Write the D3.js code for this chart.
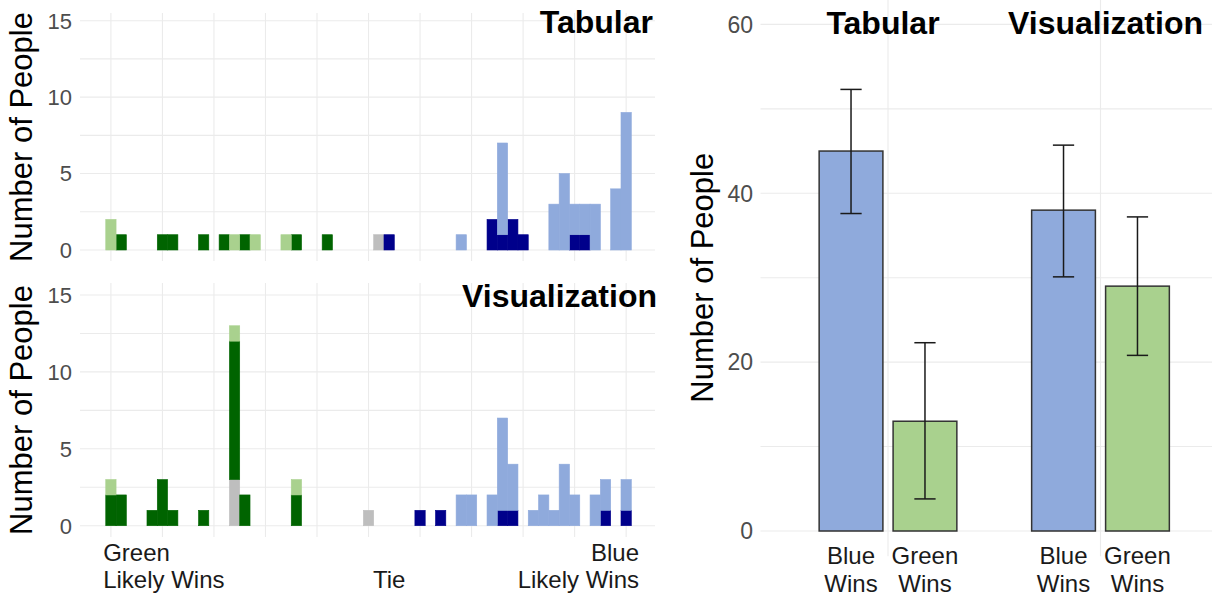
<!DOCTYPE html>
<html>
<head>
<meta charset="utf-8">
<script src="https://cdn.jsdelivr.net/npm/d3@7"></script>
<style>
  body { margin: 0; background: #fff; }
  text { font-family: "Liberation Sans", Arial, sans-serif; }
</style>
</head>
<body>
<div id="chart"></div>
<script>
// ---- histogram data: bin index 0 (green likely wins) .. 50 (blue likely wins), [bin, count]
const binTicks = [0, 5, 10, 15, 20, 25, 30, 35, 40, 45, 50];
const countTicks = [0, 5, 10, 15];
const countMinor = [2.5, 7.5, 12.5];
const groups = ["tie", "strongBlue", "strongGreen", "weakGreen", "weakBlue"]; // stack bottom -> top

const tabStrongGreen = [[1, 1], [5, 1], [6, 1], [9, 1], [11, 1], [13, 1], [18, 1], [21, 1]];
const tabWeakGreen = [[0, 2], [12, 1], [14, 1], [17, 1]];
const tabTie = [[26, 1]];
const tabStrongBlue = [[27, 1], [37, 2], [38, 1], [39, 2], [40, 1], [45, 1], [46, 1]];
const tabWeakBlue = [[34, 1], [38, 6], [43, 3], [44, 5], [45, 2], [46, 2], [47, 3], [49, 4], [50, 9]];

const vizStrongGreen = [[0, 2], [1, 2], [4, 1], [5, 3], [6, 1], [9, 1], [12, 9], [13, 2], [18, 2]];
const vizWeakGreen = [[0, 1], [12, 1], [18, 1]];
const vizTie = [[12, 3], [25, 1]];
const vizStrongBlue = [[30, 1], [32, 1], [38, 1], [39, 1], [48, 1], [50, 1]];
const vizWeakBlue = [[34, 2], [35, 2], [37, 2], [38, 6], [39, 3], [41, 1], [42, 2], [43, 1], [44, 4], [45, 2], [47, 2], [48, 2], [50, 2]];

// ---- bar chart data
const conditions = ["Tabular", "Visualization"];
const outcomes = [["Blue", "Wins"], ["Green", "Wins"]];
const tabularWins = [45, 13];
const tabularLow = [37.6, 3.8];
const tabularHigh = [52.3, 22.3];
const vizWins = [38, 29];
const vizLow = [30.1, 20.8];
const vizHigh = [45.7, 37.2];
const barTicks = [0, 20, 40, 60];
const barMinor = [10, 30, 50];

const colors = {
    tie: "#bebebe",
    strongBlue: "#00008b",
    strongGreen: "#006400",
    weakGreen: "#a9d18e",
    weakBlue: "#8faadc"
};
const outcomeColors = ["#8faadc", "#a9d18e"];
const gridColor = "#ebebeb";
const tickColor = "#4d4d4d";

let svg = d3.select("#chart")
    .append("svg")
    .attr("width", 1212)
    .attr("height", 597);

// ---------------- left: two stacked histograms ----------------
let x = d3.scaleLinear().domain([-3, 52.8]).range([80, 655]);
let binW = x(0.5) - x(-0.5);

function toRows(series) {
    let rows = d3.range(0, 51).map(b => ({ bin: b }));
    rows.forEach(r => groups.forEach(g => r[g] = 0));
    groups.forEach(g => series[g].forEach(([b, n]) => rows[b][g] = n));
    return rows;
}

let panels = [
    {
        title: "Tabular", top: 13, bottom: 261, y0: 250, y15: 20.7,
        rows: toRows({ tie: tabTie, strongBlue: tabStrongBlue, strongGreen: tabStrongGreen, weakGreen: tabWeakGreen, weakBlue: tabWeakBlue })
    },
    {
        title: "Visualization", top: 283, bottom: 537, y0: 525.7, y15: 295,
        rows: toRows({ tie: vizTie, strongBlue: vizStrongBlue, strongGreen: vizStrongGreen, weakGreen: vizWeakGreen, weakBlue: vizWeakBlue })
    }
];

panels.forEach((p, i) => {
    let y = d3.scaleLinear().domain([0, 15]).range([p.y0, p.y15]);
    let g = svg.append("g");

    // grid
    g.selectAll(".vgrid")
        .data(binTicks)
        .join("line")
        .attr("x1", d => x(d)).attr("x2", d => x(d))
        .attr("y1", p.top).attr("y2", p.bottom)
        .attr("stroke", gridColor).attr("stroke-width", 1.1);
    g.selectAll(".hgrid")
        .data(countTicks.concat(countMinor))
        .join("line")
        .attr("x1", x.range()[0]).attr("x2", x.range()[1])
        .attr("y1", d => y(d)).attr("y2", d => y(d))
        .attr("stroke", gridColor).attr("stroke-width", 1.1);

    // y tick labels
    g.selectAll(".ylab")
        .data(countTicks)
        .join("text")
        .attr("x", 72)
        .attr("y", d => y(d))
        .attr("dy", "0.36em")
        .attr("text-anchor", "end")
        .attr("fill", tickColor)
        .style("font-size", "22px")
        .text(d => d);

    // stacked bars
    let stacked = d3.stack().keys(groups)(p.rows);
    g.selectAll(".layer")
        .data(stacked)
        .join("g")
        .attr("fill", d => colors[d.key])
        .attr("stroke", d => colors[d.key])
        .attr("stroke-width", 0.6)
        .selectAll("rect")
        .data(d => d.filter(s => s[1] > s[0]))
        .join("rect")
        .attr("x", d => x(d.data.bin) - binW / 2)
        .attr("width", binW)
        .attr("y", d => y(d[1]))
        .attr("height", d => y(d[0]) - y(d[1]));

    // title inside panel
    g.append("text")
        .attr("x", i == 0 ? 653 : 657)
        .attr("y", i == 0 ? 33 : 307)
        .attr("text-anchor", "end")
        .style("font-size", "32px")
        .style("font-weight", "bold")
        .text(p.title);

    // axis title
    g.append("text")
        .attr("transform", "translate(32," + ((p.top + p.bottom) / 2) + ") rotate(-90)")
        .attr("text-anchor", "middle")
        .style("font-size", "31px")
        .attr("fill", "#000")
        .text("Number of People");
});

// bottom axis labels of the histograms
let histLabels = [
    { bin: -0.75, anchor: "start", lines: ["Green", "Likely Wins"] },
    { bin: 27, anchor: "middle", lines: ["", "Tie"] },
    { bin: 51.25, anchor: "end", lines: ["Blue", "Likely Wins"] }
];
histLabels.forEach(l => {
    l.lines.forEach((t, j) => {
        if (!t) return;
        svg.append("text")
            .attr("x", x(l.bin))
            .attr("y", 561 + j * 27)
            .attr("text-anchor", l.anchor)
            .attr("fill", "#1a1a1a")
            .style("font-size", "24px")
            .text(t);
    });
});

// ---------------- right: bar chart with error bars ----------------
let xr = d3.scaleLinear().domain([1, 2]).range([888, 1100.5]);
let yr = d3.scaleLinear().domain([0, 60]).range([531, 24.4]);
let dodge = 0.174, barWidth = 0.3, capWidth = 0.1;

let rg = svg.append("g");
rg.selectAll(".hgrid")
    .data(barTicks.concat(barMinor))
    .join("line")
    .attr("x1", xr(0.4)).attr("x2", 1212)
    .attr("y1", d => yr(d)).attr("y2", d => yr(d))
    .attr("stroke", gridColor).attr("stroke-width", 1.1);
rg.selectAll(".vgrid")
    .data([1, 2])
    .join("line")
    .attr("x1", d => xr(d)).attr("x2", d => xr(d))
    .attr("y1", yr(63)).attr("y2", yr(-3))
    .attr("stroke", gridColor).attr("stroke-width", 1.1);

rg.selectAll(".ylab")
    .data(barTicks)
    .join("text")
    .attr("x", 753)
    .attr("y", d => yr(d))
    .attr("dy", "0.36em")
    .attr("text-anchor", "end")
    .attr("fill", tickColor)
    .style("font-size", "23px")
    .text(d => d);

rg.append("text")
    .attr("transform", "translate(713," + yr(30) + ") rotate(-90)")
    .attr("text-anchor", "middle")
    .style("font-size", "31px")
    .text("Number of People");

let bars = [];
[[tabularWins, tabularLow, tabularHigh], [vizWins, vizLow, vizHigh]].forEach(([w, lo, hi], ci) => {
    w.forEach((v, oi) => bars.push({
        cond: ci + 1, outcome: oi, value: v, low: lo[oi], high: hi[oi]
    }));
});
let cx = d => xr(d.cond + (d.outcome == 0 ? -dodge : dodge));
let bw = xr(1 + barWidth) - xr(1);
let cw = xr(1 + capWidth) - xr(1);

rg.selectAll(".bar")
    .data(bars)
    .join("rect")
    .attr("x", d => cx(d) - bw / 2)
    .attr("width", bw)
    .attr("y", d => yr(d.value))
    .attr("height", d => yr(0) - yr(d.value))
    .attr("fill", d => outcomeColors[d.outcome])
    .attr("stroke", "#333")
    .attr("stroke-width", 1.5);

let eb = rg.selectAll(".err")
    .data(bars)
    .join("g")
    .attr("stroke", "#1a1a1a")
    .attr("stroke-width", 1.5);
eb.append("line")
    .attr("x1", cx).attr("x2", cx)
    .attr("y1", d => yr(d.low)).attr("y2", d => yr(d.high));
eb.append("line")
    .attr("x1", d => cx(d) - cw / 2).attr("x2", d => cx(d) + cw / 2)
    .attr("y1", d => yr(d.high)).attr("y2", d => yr(d.high));
eb.append("line")
    .attr("x1", d => cx(d) - cw / 2).attr("x2", d => cx(d) + cw / 2)
    .attr("y1", d => yr(d.low)).attr("y2", d => yr(d.low));

// condition titles
rg.selectAll(".cond")
    .data(conditions)
    .join("text")
    .attr("x", (d, i) => xr(i + 1) + (i == 0 ? -5 : 5))
    .attr("y", 34)
    .attr("text-anchor", "middle")
    .style("font-size", "32px")
    .style("font-weight", "bold")
    .text(d => d);

// x labels
bars.forEach(b => {
    outcomes[b.outcome].forEach((t, j) => {
        rg.append("text")
            .attr("x", cx(b))
            .attr("y", 564 + j * 28)
            .attr("text-anchor", "middle")
            .attr("fill", "#1a1a1a")
            .style("font-size", "24px")
            .text(t);
    });
});
</script>
</body>
</html>
